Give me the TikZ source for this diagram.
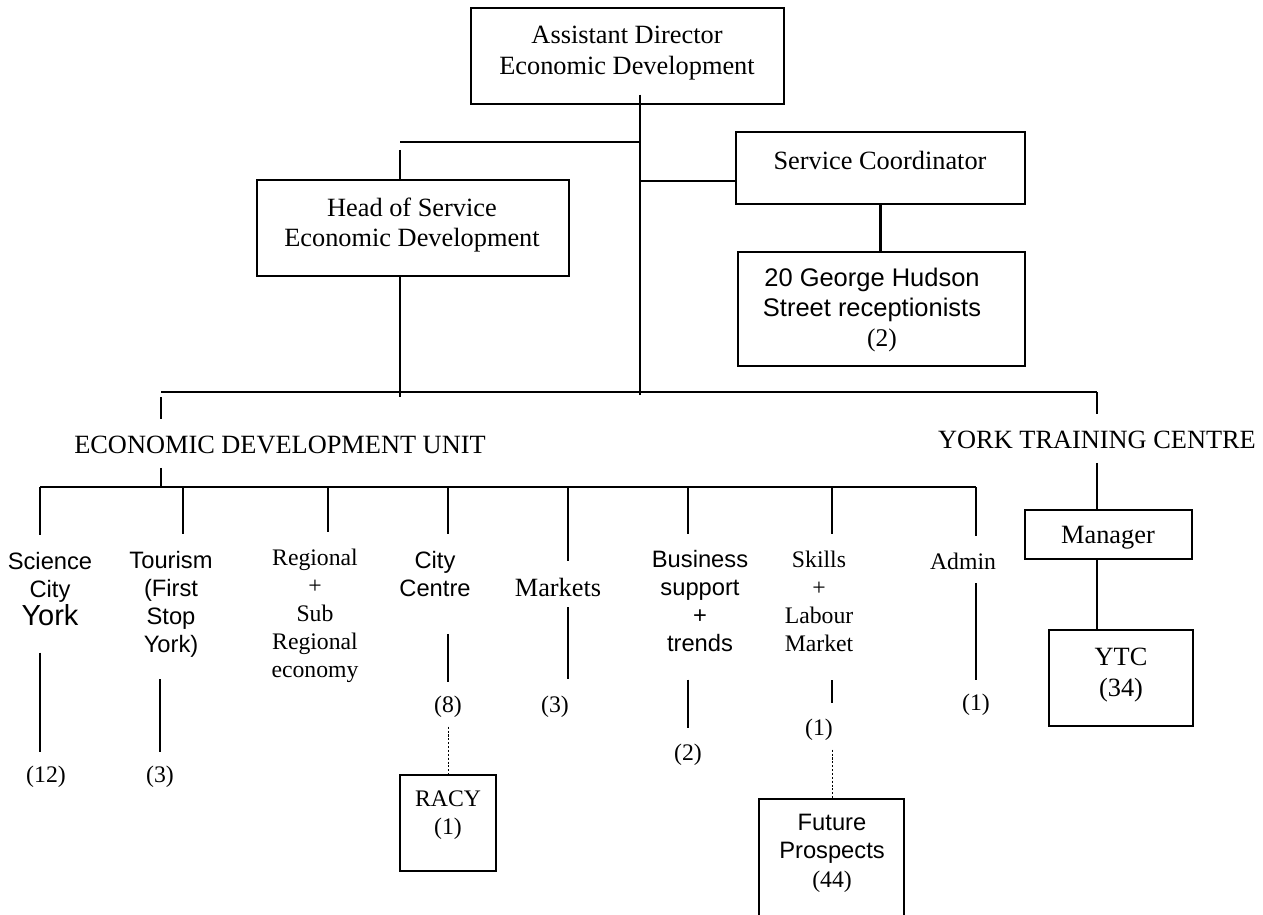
\documentclass[tikz,border=0pt]{standalone}
\usepackage{fontspec}
\setmainfont{Liberation Serif}
\newfontfamily\arialfont{Liberation Sans}
\usepackage{tikz}

\begin{document}
\begin{tikzpicture}[x=0.02cm,y=-0.02cm]
\useasboundingbox (0,0) rectangle (1263,914);
\clip (0,0) rectangle (1263,914);
\tikzstyle{every path}=[very thick]

\edef\pxsize{0.02cm}
\tikzstyle{orgbox}=[draw,inner sep=0pt]
\tikzstyle{bigtxt}=[align=center,inner sep=0pt,font=\fontsize{15}{17.3}\selectfont]
\tikzstyle{smalltxt}=[align=center,inner sep=0pt,font=\fontsize{13.5}{15.9}\selectfont]
\tikzstyle{sanstxt}=[align=center,inner sep=0pt,font=\arialfont\fontsize{13.5}{15.9}\selectfont]
\tikzstyle{staff}=[smalltxt]
\tikzstyle{reports}=[densely dotted,thin]

%% Management boxes
\node [orgbox,minimum width=313*\pxsize,minimum height=96*\pxsize] (ad) at (627.5,56) {};
\node [bigtxt] (adtxt) at (627,53) {Assistant Director\\Economic Development};
\node [orgbox,minimum width=312*\pxsize,minimum height=96*\pxsize] (hos) at (413,228) {};
\node [bigtxt] (hostxt) at (412,225) {Head of Service\\Economic Development};
\node [orgbox,minimum width=289*\pxsize,minimum height=72*\pxsize] (sc) at (880.5,168) {};
\node [bigtxt] (sctxt) at (880,160) {Service Coordinator};
\node [orgbox,minimum width=287*\pxsize,minimum height=114*\pxsize] (grh) at (881.5,309) {};
\node [bigtxt,font=\arialfont\fontsize{14.5}{17}\selectfont] (grhtxt) at (872,310)
  {20 George Hudson\\Street receptionists\\\hspace*{0.4cm}{\rmfamily (2)}};

%% Spine and first level
\coordinate (sp1) at (640,142);
\coordinate (sp2) at (640,181);
\coordinate (sp3) at (640,395);
\coordinate (hl) at (400,142);
\coordinate (e0) at (161,392);
\coordinate (e1) at (1097,392);

\draw ([yshift=6pt]ad.south -| sp1) -- (sp3);
\draw (sp1) -- (hl);
\draw [shorten <=4.5pt] (hl) -- (hl |- hos.north);
\draw [shorten >=-3pt] (hl |- hos.south) -- (hl |- e0);
\draw (sp2) -- (sp2 -| sc.west);
\draw (sc.south) -- (sc.south |- grh.north);
\draw (e0) -- (e1);

%% Units
\node [bigtxt] (edu) at (280,445) {ECONOMIC DEVELOPMENT UNIT};
\node [bigtxt] (ytclbl) at (1097,440) {YORK TRAINING CENTRE};

%% York Training Centre
\node [orgbox,minimum width=167*\pxsize,minimum height=49*\pxsize] (mgr) at (1108.5,534.5) {};
\node [bigtxt] (mgrtxt) at (1108,538) {Manager};
\node [orgbox,minimum width=144*\pxsize,minimum height=96*\pxsize] (ytc) at (1121,678) {};
\node [bigtxt] (ytctxt) at (1121,675) {YTC\\(34)};

\draw [shorten <=3pt,shorten >=9pt] (e0) -- (e0 |- edu.north);
\draw [shorten >=9pt] (e1) -- (e1 |- ytclbl.north);
\draw [shorten <=7.4pt] (e1 |- ytclbl.south) -- (e1 |- mgr.north);
\draw (e1 |- mgr.south) -- (e1 |- ytc.north);

%% Economic development unit teams
\coordinate (t1) at (40,487);
\coordinate (t2) at (183,487);
\coordinate (t3) at (328,487);
\coordinate (t4) at (448,487);
\coordinate (t5) at (568,487);
\coordinate (t6) at (688,487);
\coordinate (t7) at (832,487);
\coordinate (t8) at (976,487);

\node [sanstxt] (sci) at (50,589) {Science\\City\\{\fontsize{16.5}{17}\selectfont York}};
\node [sanstxt] (tou) at (171,604) {Tourism\\(First\\Stop\\York)};
\node [smalltxt] (reg) at (315,616) {Regional\\+\\Sub\\Regional\\economy};
\node [sanstxt] (cc) at (435,574) {City\\Centre};
\node [bigtxt] (mkt) at (558,587) {Markets};
\node [sanstxt] (bus) at (700,601) {Business\\support\\+\\trends};
\node [smalltxt] (skl) at (819,601) {Skills\\+\\Labour\\Market};
\node [smalltxt] (adm) at (963,561) {Admin};

\node [staff] (scin) at (46,777) {(12)};
\node [staff] (toun) at (160,777) {(3)};
\node [staff] (ccn) at (448,707) {(8)};
\node [staff] (mktn) at (555,707) {(3)};
\node [staff] (busn) at (688,755) {(2)};
\node [staff] (skln) at (819,730) {(1)};
\node [staff] (admn) at (976,705) {(1)};

\node [orgbox,minimum width=96*\pxsize,minimum height=96*\pxsize] (racy) at (448,823) {};
\node [smalltxt] (racytxt) at (448,815) {RACY\\(1)};
\node [orgbox,minimum width=145*\pxsize,minimum height=142*\pxsize] (fp) at (831.5,870) {};
\node [sanstxt,font=\arialfont\fontsize{13.5}{16.2}\selectfont] (fptxt) at (832,853)
  {Future\\Prospects\\{\rmfamily (44)}};

\draw [shorten <=7.4pt] (e0 |- edu.south) -- (e0 |- t1);
\draw (t1) -- (t8);
\foreach \t/\n in {t1/sci,t2/tou,t3/reg,t4/cc,t5/mkt,t6/bus,t7/skl,t8/adm}
  \draw [shorten >=9pt] (\t) -- (\t |- \n.north);

\draw [shorten <=14.8pt,shorten >=7.4pt] (t1 |- sci.south) -- (t1 |- scin.north);
\draw [shorten <=12pt,shorten >=7.4pt] (toun |- tou.south) -- (toun.north);
\draw [shorten <=20.5pt,shorten >=7.4pt] (t4 |- cc.south) -- (t4 |- ccn.north);
\draw [shorten <=5.7pt,shorten >=9pt] (t5 |- mkt.south) -- (t5 |- mktn.north);
\draw [shorten <=15.4pt,shorten >=8.5pt] (t6 |- bus.south) -- (t6 |- busn.north);
\draw [shorten <=16pt,shorten >=8.5pt] (t7 |- skl.south) -- (t7 |- skln.north);
\draw [shorten <=7.4pt,shorten >=7.4pt] (t8 |- adm.south) -- (t8 |- admn.north);

%% Dotted links
\draw [reports,shorten <=4.5pt] (ccn.south) -- (racy.north);
\draw [reports,shorten <=4.5pt] (t7 |- skln.south) -- (t7 |- fp.north);
\end{tikzpicture}
\end{document}
